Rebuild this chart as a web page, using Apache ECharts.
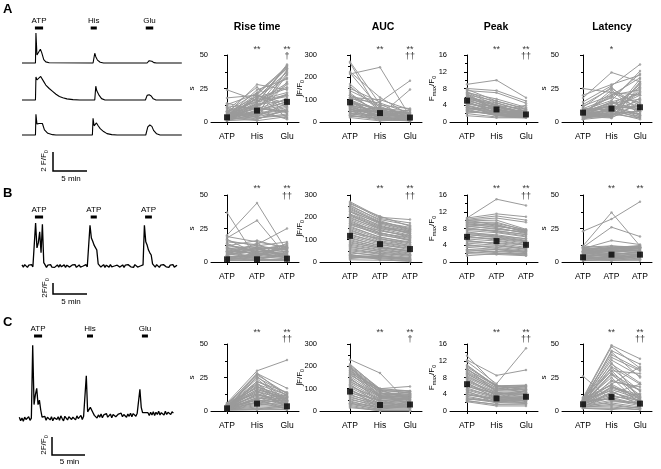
<!DOCTYPE html>
<html>
<head>
<meta charset="utf-8">
<script src="https://cdn.jsdelivr.net/npm/echarts@6/dist/echarts.min.js"></script>
<style>
  html, body { margin: 0; padding: 0; background: #fff; }
  #main { width: 661px; height: 469px; }
</style>
</head>
<body>
<div id="main"></div>
<script>
// ---- data ----
const catsA = ['ATP', 'His', 'Glu'];
const catsB = ['ATP', 'ATP', 'ATP'];
const catsC = ['ATP', 'His', 'Glu'];
const metricTitles = ['Rise time', 'AUC', 'Peak', 'Latency'];

// stimulus periods (label, start min, end min)
const stimA = [['ATP', 1.9, 3.1], ['His', 10.1, 11.0], ['Glu', 18.2, 19.3]];
const stimB = [['ATP', 1.9, 3.1], ['ATP', 10.1, 11.0], ['ATP', 18.1, 19.1]];
const stimC = [['ATP', 2.2, 3.4], ['His', 10.1, 11.0], ['Glu', 18.3, 19.2]];

// example traces, row A: [min, dF/F0]
const traceA1 = [[0,0],[1.98,0],[2.05,2.6],[2.2,0.7],[2.4,0.6],[2.7,1.2],[2.9,0.9],[3.2,0.3],[3.5,0.1],[4,0.02],
  [10.45,0],[10.7,0.85],[10.85,0.55],[11.1,0.25],[11.5,0.07],[12,0],[18.4,0],[18.7,0.2],[19.1,0.15],[19.4,0.03],[19.8,0],[23.5,0]];
const traceA2 = [[0,0],[1.98,0],[2.05,2.0],[2.2,1.75],[2.45,1.85],[2.75,2.05],[3.0,2.0],[3.2,1.6],[3.5,1.3],[4.0,1.0],
  [4.5,0.75],[5.0,0.5],[5.5,0.3],[6.0,0.2],[6.6,0.1],[7.5,0.03],[8.5,0],[10.7,0],[10.85,1.2],[11.0,0.8],[11.15,0.75],
  [11.35,0.4],[11.7,0.12],[12.2,0],[18.15,0],[18.4,0.4],[18.7,0.45],[19.0,0.35],[19.3,0.1],[19.7,0],[23.5,0]];
const traceA3 = [[0,0],[1.98,0],[2.05,1.8],[2.2,0.95],[2.5,1.0],[2.75,1.15],[3.0,1.0],[3.3,0.45],[3.8,0.15],[4.5,0.03],[5,0],
  [10.35,0],[10.45,1.45],[10.6,0.8],[10.95,1.05],[11.2,0.8],[11.5,0.55],[12.0,0.3],[12.5,0.12],[13.2,0.03],[14,0],
  [18.2,0],[18.5,0.7],[18.8,0.87],[19.1,0.75],[19.35,0.4],[19.8,0.1],[20.3,0],[23.5,0]];

// rows B and C: one sample every 0.2 min
const SAMPLE_MIN = 0.2;
const traceB = [
  0.2,-0.2,0.25,0,-0.25,0.15,-0.2,0.25,-0.15,0,
  7.8,3.3,4.2,6.2,2.4,7.6,0.6,
  0.2,-0.25,0.15,-0.05,0.25,-0.2,0.15,-0.25,0.05,0.2,-0.2,0.25,-0.15,0,0.2,-0.25,0.15,0.25,-0.2,0,0.2,-0.15,0.25,-0.25,0.05,0.2,-0.2,0.15,0,-0.25,0.25,-0.15,0.05,
  7.4,5.1,4.5,3.8,3.5,2.9,0.4,
  0.2,-0.2,0.05,0.25,-0.25,0.15,-0.05,-0.2,0.25,-0.15,0.2,0,-0.25,0.15,0.25,-0.2,0.05,0.2,-0.25,0.15,-0.2,0.25,0,-0.15,0.2,-0.25,0.25,0,-0.2,0.15,0,-0.2,0.2,
  7.4,4.4,3.8,2.9,2.4,2.0,0.4,
  0.2,-0.2,0.25,0,-0.25,0.15,-0.2,0.25,0,-0.15,0.2,-0.25,0.15,0,0.25,-0.2,0.05,0.15
];
const traceC = [
  0.2,-0.2,0.1,-0.25,0.2,-0.05,-0.2,0.25,-0.15,0.1,
  8.2,1.6,2.7,3.4,1.6,2.1,1.0,0.2,
  0.1,0.3,-0.15,0.2,0.35,-0.1,0.25,-0.2,0.15,0.3,-0.05,0.25,-0.15,0.35,0.05,-0.2,0.3,0.1,-0.1,0.25,0.35,-0.05,0.2,0.3,-0.1,0.35,0.05,0.25,0.4,-0.05,0.3,0.1,
  4.8,0.8,1.0,1.3,1.2,0.7,0.4,
  0.5,0.1,0.45,0.2,0.55,0.15,0.45,0.25,0.6,0.2,0.4,0.55,0.15,0.5,0.6,0.25,0.2,0.55,0.35,0.65,0.25,0.5,0.6,0.2,0.55,0.3,0.65,0.25,0.6,0.4,0.3,0.65,0.45,
  3.3,1.3,0.7,0.8,0.7,0.5,
  0.7,0.4,0.75,0.45,0.8,0.4,0.75,0.5,0.85,0.45,0.7,0.8,0.45,0.85,0.5,0.75,0.85,0.5,0.8,0.65
];

// per-cell values [stim1, stim2, stim3]
const riseA = [[3,8,15],[2,20,42],[5,18,40],[1,12,38],[4,6,35],[8,22,41],[2,4,30],[12,10,8],[24,16,20],[18,20,12],[6,28,24],[3,14,43],
  [10,3,5],[14,9,2],[7,19,33],[1,2,10],[2,7,18],[9,26,6],[4,11,28],[5,16,22],[11,5,39],[3,1,4],[6,13,16],[13,21,3],[2,9,36],[8,4,14],
  [1,18,26],[4,24,32],[7,2,9],[3,15,19],[5,6,12],[2,11,7],[2,5,11],[3,8,13],[4,10,17],[1,6,9],[5,12,21],[6,17,25],[2,3,6],[3,20,14],
  [4,7,3],[1,9,15],[6,4,8],[2,13,20],[8,15,29],[3,18,37],[5,21,40],[1,14,42]];
const aucA = [[270,80,20],[265,40,15],[225,110,30],[220,60,10],[215,245,25],[160,50,40],[150,90,185],[130,30,145],[120,70,20],
  [110,100,55],[100,45,30],[95,20,10],[90,60,50],[85,35,15],[80,25,5],[75,15,20],[70,55,35],[65,40,25],[60,10,5],[55,30,45],
  [50,20,10],[45,65,30],[40,12,15],[35,25,8],[30,8,20],[25,18,5],[20,5,12],[140,75,60],[170,55,25],[105,85,40],[60,28,55],[45,50,18],
  [65,30,12],[55,45,20],[70,20,8],[90,35,28],[110,50,15],[40,30,25],[30,15,10],[85,60,40],[120,40,22],[100,25,18],[50,10,6],[75,45,12]];
const peakA = [[9,10,5.8],[8,7.5,5],[7.5,7,4.5],[7,5.5,3.5],[6.5,5,3],[6,4.5,2.5],[6,3,2],[5.5,4,3],[5,3.5,2],[5,2,1.5],[4.5,3,2],
  [4,2.5,1.5],[4,1.5,1.2],[3.5,2,1.3],[3,1.5,1],[3,3.5,2.5],[2.5,1.8,1.2],[2,1.2,1],[1.5,1,1],[7,4,2],[6.5,3,1.8],[5.5,2.5,1.5],
  [4.5,2.8,1.8],[3.5,2.2,2.8],[2.8,1.6,1.4],[7.8,5,3.2],[4.2,3.8,2.2],[5.8,4.2,1.6],[3.2,2.6,4],[2.2,2.4,1.9],
  [5.2,3.2,1.5],[6.2,3.8,2.2],[4.8,2.2,1.3],[3.8,2.4,1.7],[7.2,4.6,2.6],[2.6,2,1.3],[5.6,3.6,2],[4.4,3,1.6],[6.8,2.8,1.4],[3.4,1.8,2.1]];
const latA = [[25,22,20],[20,28,35],[18,37,30],[15,27,43],[13,25,12],[12,20,33],[10,18,36],[9,12,5],[8,10,28],[8,8,22],[7,15,8],
  [7,6,32],[6,5,18],[6,9,3],[5,4,25],[5,14,10],[4,7,2],[4,3,15],[3,11,6],[3,5,30],[2,8,4],[2,4,9],[11,26,7],[9,16,38],[6,22,14],
  [5,13,26],[4,10,20],[3,6,3],[7,19,11],[10,9,16],[6,24,5],[8,3,27],
  [6,8,6],[5,10,12],[7,12,9],[4,6,8],[8,14,17],[3,9,23],[5,7,29],[9,11,4],[6,15,21],[4,5,13],[7,20,24],[2,12,10]];

const riseB = [[37,2,5],[20,44,8],[18,31,4],[15,13,25],[12,16,10],[10,12,15],[8,10,12],[17,6,3],[14,4,11],[6,14,2],[5,8,9],[4,3,6],
  [3,2,1],[2,1,3],[1,2,2],[3,6,8],[7,9,13],[11,5,7],[9,11,4],[2,7,10],[1,1,1],[4,4,14],[6,3,5],[13,8,6],[16,12,9],[19,15,11],
  [2,5,12],[8,2,1],[5,10,3],[3,1,2],[4,5,7],[6,8,10],[9,6,8],[12,10,5],[2,3,4],[7,4,6],[10,9,12],[5,11,9],[3,6,11],[8,7,3]];
const aucB = [[270,200,190],[260,205,160],[250,190,165],[245,180,150],[240,175,140],[230,170,135],[225,160,130],[215,165,125],
  [210,150,120],[200,145,110],[190,140,115],[185,130,105],[175,125,95],[170,120,100],[160,110,90],[150,105,80],[145,95,75],
  [135,90,70],[125,85,60],[115,80,55],[110,70,50],[100,65,45],[90,60,40],[80,55,35],[70,45,30],[60,40,25],[50,35,20],[40,30,15],
  [30,25,12],[25,20,8],[20,15,5],[15,30,10],[35,10,3],[10,8,5],[255,185,145],[235,178,155],[205,155,128],[180,132,98],
  [155,112,85],[120,88,66],[95,66,48],[65,48,33],[45,25,18],[225,175,145],[195,150,135],[165,128,110],[140,100,88],[130,105,72],
  [105,75,62],[85,62,52],[75,52,42],[55,38,30],[28,18,12],[18,25,14],[265,195,175],[212,158,140],[172,140,118]];
const peakB = [[10.5,15,13.5],[10.5,11.5,10.8],[10.2,11,10],[10,10.5,9.5],[9.8,10,7.8],[9.5,9.5,7.5],[9,9,7],[8.8,8.5,7.6],[8.5,8,7],
  [8,7.5,6.5],[7.5,7,6],[7,6.5,5.5],[6.5,6,5],[6,5.5,4.5],[5.5,5,4],[5,4.5,3.5],[4.5,4,3],[4,3.5,2.8],[3.5,3,2.5],[3,2.5,2],
  [2.5,2,1.8],[2,1.8,1.5],[1.5,2,2],[3,2.2,1.6],[9.2,8.2,6.8],[8.2,7.2,6.2],[7.2,6.2,5.2],[6.2,5.2,4.2],[5.2,4.2,3.2],[4.2,3.2,2.6],
  [10,8.8,7.3],[2.8,3,2.2],[9.6,9.2,7.7],[8.6,7.8,7.2],[7.8,7.4,6.6],[6.8,6.2,5.6],[5.8,5.6,4.8],[4.8,4.6,4],[3.8,3.8,3.2],
  [2.2,2.6,2.4],[9.4,8.6,7.4],[6.6,5.8,5]];
const latB = [[23,32,45],[12,37,12],[11,26,19],[10,16,13],[9,12,11],[8,11,10],[8,10,12],[7,9,8],[7,8,11],[6,7,9],[6,6,7],[5,5,8],
  [5,4,6],[4,3,5],[4,2,4],[3,1,3],[3,3,2],[2,2,2],[1,1,1],[12,10,9],[10,8,7],[9,6,6],[11,12,10],[2,4,3],[6,9,11],[8,5,4],[3,7,9],
  [5,11,12],[7,3,5],[1,2,6],[4,5,6],[5,6,7],[6,8,10],[7,10,11],[8,9,12],[3,4,4],[9,11,12],[2,3,5],[10,10,11],[11,9,8]];

const riseC = [[6,30,38],[5,28,17],[5,27,13],[4,22,14],[4,20,12],[3,18,11],[3,16,10],[3,14,9],[2,12,8],[2,10,7],[2,8,6],[2,6,5],
  [1,5,4],[1,4,3],[1,3,2],[1,2,1],[0.5,1,1],[4,24,6],[3,15,3],[2,9,12],[5,13,4],[1,7,10],[2,19,2],[3,11,5],[4,6,8],[1,1,3],
  [6,17,9],[2,26,7],[3,21,4],[1,9,1],[2,15,8],[3,12,6],[1,10,4],[4,18,10],[2,22,12],[5,25,13],[3,8,3],[1,13,7],[2,28,11],
  [4,16,9],[3,20,5],[1,6,2]];
const aucC = [[230,170,30],[205,100,110],[200,95,90],[195,90,85],[185,80,80],[175,75,75],[165,70,70],[155,65,65],[145,60,60],
  [135,55,55],[125,50,50],[115,45,45],[105,40,40],[95,35,35],[85,30,30],[75,25,25],[65,20,20],[55,15,15],[45,10,10],[35,5,5],
  [25,3,3],[15,2,2],[20,0,0],[190,85,25],[170,62,88],[150,40,20],[120,28,66],[100,12,45],[80,50,12],[60,30,60],[40,18,40],
  [30,8,22],[180,95,50],[140,70,35],[210,95,80],[195,80,70],[180,70,85],[160,90,60],[130,65,50],[110,55,75],[90,45,55],
  [70,35,45],[50,25,30],[35,15,20],[200,60,40],[170,100,90]];
const peakC = [[13.2,6,6.2],[12.2,8.5,9.8],[11.8,6.5,15],[10.5,6,6],[10,5.8,5.5],[9.5,5.5,5.8],[9,5,5.2],[8.5,4.8,4.8],[8,4.5,4.5],
  [7.5,4.2,4.2],[7,4,4],[6.5,3.8,3.8],[6,3.5,3.5],[5.5,3.2,3.2],[5,3,3],[4.5,2.8,2.8],[4,2.5,2.5],[3.5,2.2,2.2],[3,2,2],
  [2.5,1.5,1.5],[2.2,1.2,1.2],[9.8,6.2,4],[8.8,5.2,6],[7.8,3.5,2.5],[6.8,2.8,5],[5.8,4.2,2.2],[4.8,1.8,3.5],[3.8,3,1.8],
  [2.8,2.4,3],[10.2,4.5,3.2],[10.8,6,5],[9.2,5.5,4.5],[8.2,5,5.5],[7.2,4.4,3.8],[6.2,4,4.8],[5.2,3.4,3],[4.2,2.6,3.2],
  [3.2,2.2,2.5],[2.4,1.6,1.8],[11,5.8,6]];
const latC = [[26,8,6],[10,49,39],[9,48,32],[9,42,31],[8,38,26],[8,35,21],[7,32,15],[7,30,10],[6,28,8],[6,20,33],[6,18,12],
  [5,16,9],[5,14,7],[5,12,6],[4,10,5],[4,8,4],[4,6,3],[3,5,2],[3,4,2],[3,3,1],[2,2,1],[7,25,5],[6,17,11],[5,13,20],[4,11,8],
  [8,9,13],[9,15,4],[3,7,6],[2,1,3],[10,19,7],[5,36,9],[6,22,18],[7,40,30],[8,44,25],[5,28,15],[6,33,20],[4,18,10],[3,14,8],
  [7,9,5],[5,27,12],[8,20,9],[6,45,35],[4,23,16],[9,30,28]];

// means per metric (Rise, AUC, Peak, Latency)
const meansA = [[3.5, 8.5, 15], [88, 40, 20], [5.1, 3.0, 1.8], [7, 10, 11]];
const meansB = [[2, 2, 2.5], [117, 80, 58], [6, 5, 4.1], [3.5, 5.5, 5.5]];
const meansC = [[2, 5.5, 3.5], [87, 27, 29], [6.4, 3.0, 3.4], [5, 10.5, 5.5]];

// significance marks
const starsA = [['', '**', '**'], ['', '**', '**'], ['', '**', '**'], ['', '*', '']];
const daggersA = [['', '', '†'], ['', '', '††'], ['', '', '††'], ['', '', '']];
const starsB = [['', '**', '**'], ['', '**', '**'], ['', '**', '**'], ['', '**', '**']];
const daggersB = [['', '', '††'], ['', '', '††'], ['', '', '††'], ['', '', '']];
const starsC = [['', '**', '**'], ['', '**', '**'], ['', '**', '**'], ['', '**', '**']];
const daggersC = [['', '', '††'], ['', '', '†'], ['', '', '††'], ['', '', '††']];

// y axes per metric
const yMax = [50, 300, 16, 50];
const yStep = [25, 100, 4, 25];
const yNames = ['s', '∫F/F{sub|0}', 'F{sub|max}/F{sub|0}', 's'];

// ---- layout ----
const FONT = '"Liberation Sans", Arial, sans-serif';
const GRAY = '#9a9a9a';
const PANEL_X = [
  { axis: 211, c0: 227, sp: 30, gap: 15 },
  { axis: 320, c0: 350, sp: 30, gap: 15 },
  { axis: 450, c0: 467, sp: 29.5, gap: 13 },
  { axis: 562, c0: 583, sp: 28.5, gap: 14 }
];
const ROW_Y = [{ top: 55, zero: 122 }, { top: 195, zero: 262 }, { top: 344, zero: 411 }];
const MARK_OFF = [[-5, 2], [-6, 2], [-11, -4]];

const grid = [], xAxis = [], yAxis = [], series = [];

function addTrace(left, pxPerMin, tmax, base, top, bottom, pxPerUnit, data, width) {
  const gi = grid.length;
  grid.push({ left: left, top: top, width: tmax * pxPerMin, height: bottom - top });
  xAxis.push({ gridIndex: gi, type: 'value', min: 0, max: tmax, show: false });
  yAxis.push({ gridIndex: gi, type: 'value', min: -(bottom - base) / pxPerUnit, max: (base - top) / pxPerUnit, show: false });
  series.push({
    type: 'line', xAxisIndex: gi, yAxisIndex: gi, data: data, showSymbol: false, symbol: 'none',
    lineStyle: { color: '#000', width: width }, clip: false, silent: true
  });
}

function addStim(left, pxPerMin, tmax, barBottom, stim) {
  const gi = grid.length;
  grid.push({ left: left, top: barBottom - 10, width: tmax * pxPerMin, height: 10 });
  xAxis.push({ gridIndex: gi, type: 'value', min: 0, max: tmax, show: false });
  yAxis.push({ gridIndex: gi, type: 'value', min: 0, max: 1, show: false });
  series.push({
    type: 'custom', xAxisIndex: gi, yAxisIndex: gi, silent: true, clip: false,
    data: stim.map(s => [s[1], s[2]]),
    renderItem: (params, api) => {
      const s = stim[params.dataIndex];
      const p0 = api.coord([s[1], 0]);
      const p1 = api.coord([s[2], 0]);
      return {
        type: 'group',
        children: [
          { type: 'rect', shape: { x: p0[0], y: p0[1] - 3, width: p1[0] - p0[0], height: 3 }, style: { fill: '#000' } },
          { type: 'text', x: (p0[0] + p1[0]) / 2, y: p0[1] - 4.5,
            style: { text: s[0], fill: '#000', font: '8px ' + FONT, align: 'center', verticalAlign: 'bottom' } }
        ]
      };
    }
  });
}

function addPanel(row, m, cells, means, stars, daggers, cats) {
  const px = PANEL_X[m], ry = ROW_Y[row];
  const gi = grid.length;
  const right = px.c0 + 2 * px.sp + 12;
  grid.push({ left: px.axis, top: ry.top, width: right - px.axis, height: ry.zero - ry.top });
  xAxis.push({
    gridIndex: gi, type: 'value', min: -(px.c0 - px.axis) / px.sp, max: 2 + 12 / px.sp, offset: 6,
    axisLine: { show: true, lineStyle: { color: '#000', width: 1 } },
    axisTick: { show: true, customValues: [0, 1, 2], length: 3, lineStyle: { color: '#000' } },
    axisLabel: { customValues: [0, 1, 2], formatter: v => cats[Math.round(v)], color: '#000', fontSize: 8.5, fontFamily: FONT, margin: 4 },
    splitLine: { show: false }
  });
  yAxis.push({
    gridIndex: gi, type: 'value', min: 0, max: yMax[m], interval: yStep[m],
    axisLine: { show: true, lineStyle: { color: '#000', width: 1 } },
    axisTick: { show: true, length: 3, lineStyle: { color: '#000' } },
    minorTick: { show: true, splitNumber: 2, length: 2, lineStyle: { color: '#000' } },
    axisLabel: { color: '#000', fontSize: 7.5, fontFamily: FONT, margin: 3 },
    splitLine: { show: false },
    name: yNames[m], nameLocation: 'middle', nameGap: px.gap, nameMoveOverlap: false,
    nameTextStyle: { color: '#000', fontSize: 8, fontFamily: FONT, rich: { sub: { fontSize: 5.5, fontFamily: FONT, padding: [5, 0, 0, 0] } } }
  });
  const ax = { xAxisIndex: gi, yAxisIndex: gi, silent: true };
  series.push(Object.assign({
    type: 'lines', coordinateSystem: 'cartesian2d', polyline: true, z: 2,
    lineStyle: { color: GRAY, width: 1, opacity: 1 },
    data: cells.map(c => ({ coords: c.map((v, i) => [i, v]) }))
  }, ax));
  const dots = [];
  cells.forEach(c => c.forEach((v, i) => dots.push([i, v])));
  series.push(Object.assign({ type: 'scatter', z: 3, symbolSize: 2.5, itemStyle: { color: GRAY }, data: dots }, ax));
  series.push(Object.assign({
    type: 'scatter', z: 5, symbol: 'rect', symbolSize: 6, itemStyle: { color: '#000' },
    data: means.map((v, i) => [i, v])
  }, ax));
  [[stars, MARK_OFF[row][0]], [daggers, MARK_OFF[row][1]]].forEach(([marks, dy]) => {
    series.push(Object.assign({
      type: 'scatter', z: 6, symbolSize: 0, clip: false,
      data: marks.map((t, i) => ({ value: [i, yMax[m]], label: { formatter: t } })),
      label: { show: true, position: 'inside', offset: [0, dy], color: '#000', fontSize: 9, fontFamily: FONT }
    }, ax));
  });
}

// traces
addStim(22, 6.8, 23.5, 29.5, stimA);
addTrace(22, 6.8, 23.5, 63, 30, 68, 11.5, traceA1, 1.1);
addTrace(22, 6.8, 23.5, 100, 72, 104, 11.5, traceA2, 1.1);
addTrace(22, 6.8, 23.5, 135, 110, 140, 11.5, traceA3, 1.1);
addStim(22, 6.8, 23.5, 218.5, stimB);
addTrace(22, 6.8, 23.0, 266, 218, 272, 5.5, traceB.map((v, i) => [i * SAMPLE_MIN, v]), 1.3);
addStim(19.3, 6.7, 23.2, 337.5, stimC);
addTrace(19.3, 6.7, 23.2, 419, 340, 425, 9, traceC.map((v, i) => [i * SAMPLE_MIN, v]), 1.3);

// summary panels
const rowsData = [
  [[riseA, aucA, peakA, latA], meansA, starsA, daggersA, catsA],
  [[riseB, aucB, peakB, latB], meansB, starsB, daggersB, catsB],
  [[riseC, aucC, peakC, latC], meansC, starsC, daggersC, catsC]
];
rowsData.forEach((r, row) => {
  r[0].forEach((cells, m) => addPanel(row, m, cells, r[1][m], r[2][m], r[3][m], r[4]));
});

// titles, panel letters, scale bars
const titleX = [257, 383, 496, 612];
const graphic = [];
metricTitles.forEach((t, i) => graphic.push({
  type: 'text', x: titleX[i], y: 27,
  style: { text: t, fill: '#000', font: 'bold 10.5px ' + FONT, align: 'center', verticalAlign: 'middle' }
}));
[['A', 9], ['B', 193], ['C', 322]].forEach(([t, y]) => graphic.push({
  type: 'text', x: 3, y: y, style: { text: t, fill: '#000', font: 'bold 13px ' + FONT, verticalAlign: 'middle' }
}));
const scaleBars = [
  { x: 53, y0: 152, y1: 171, x1: 87, tx: 44, ty: 161, label: '2 F/F{sub|0}', my: 179 },
  { x: 53, y0: 283, y1: 294, x1: 87, tx: 45, ty: 288, label: '2F/F{sub|0}', my: 302 },
  { x: 52, y0: 437, y1: 455, x1: 85, tx: 44, ty: 445, label: '2F/F{sub|0}', my: 462 }
];
scaleBars.forEach(b => {
  graphic.push({ type: 'polyline', shape: { points: [[b.x, b.y0], [b.x, b.y1], [b.x1, b.y1]] },
    style: { stroke: '#000', lineWidth: 1.5, fill: null } });
  graphic.push({ type: 'text', x: b.tx, y: b.ty, rotation: Math.PI / 2,
    style: { text: b.label, fill: '#000', font: '8px ' + FONT, align: 'center', verticalAlign: 'middle',
      rich: { sub: { fontSize: 5.5, fontFamily: FONT, padding: [5, 0, 0, 0] } } } });
  graphic.push({ type: 'text', x: (b.x + b.x1) / 2 + 1, y: b.my,
    style: { text: '5 min', fill: '#000', font: '8px ' + FONT, align: 'center', verticalAlign: 'middle' } });
});

const chart = echarts.init(document.getElementById('main'));
chart.setOption({
  animation: false,
  backgroundColor: '#fff',
  grid: grid,
  xAxis: xAxis,
  yAxis: yAxis,
  series: series,
  graphic: graphic
});
window.addEventListener('resize', () => chart.resize());
</script>
</body>
</html>
